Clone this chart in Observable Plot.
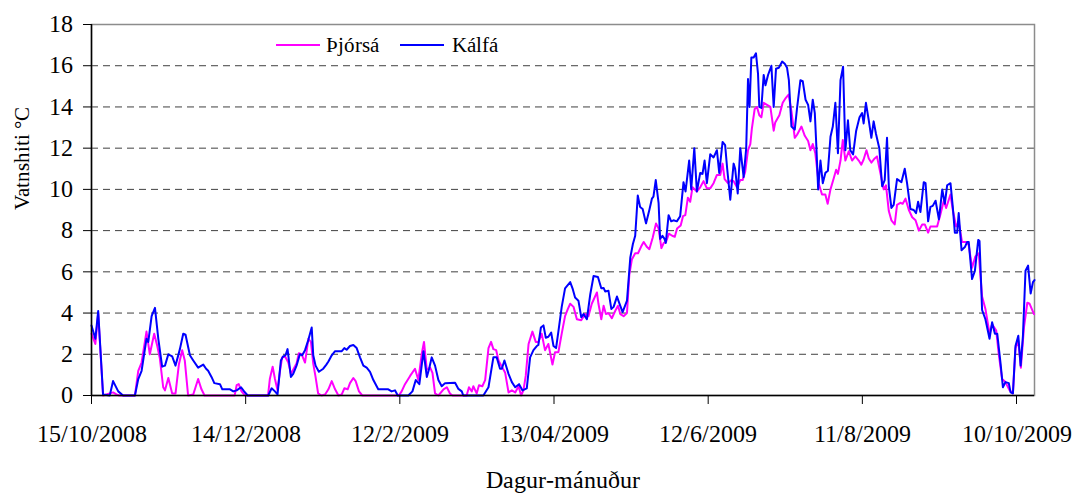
<!DOCTYPE html>
<html><head><meta charset="utf-8">
<script src="https://cdn.jsdelivr.net/npm/d3@7"></script>
<script src="https://cdn.jsdelivr.net/npm/@observablehq/plot@0.6"></script>
<style>
@font-face{font-family:"ChartSerif";src:local("Liberation Serif"),local("LiberationSerif"),local("LiberationSerif-Regular"),local("Liberation Serif Regular"),local("Times New Roman"),local("DejaVu Serif"),local("DejaVuSerif"),local("Noto Serif"),local("NotoSerif-Regular");}
body{margin:0;background:#fff;}
#wrap{position:relative;width:1081px;height:496px;font-family:ChartSerif,"Liberation Serif","Times New Roman",serif;}
#wrap svg, #wrap svg text{font-family:ChartSerif,"Liberation Serif","Times New Roman",serif !important;}
.sw{position:absolute;height:0;border-top:2px solid;width:44px;}
.lt{position:absolute;font-size:21px;line-height:21px;color:#000;white-space:nowrap;}
</style></head><body><div id="wrap"></div>
<script>
// Day offsets from 15/10/2008 and water temperature (°C)
const seriesNames = ["Þjórsá", "Kálfá"];
const seriesColors = ["#ff00ff", "#0000ff"];
const thjorsaReadings = [[0,3],[1.5,2.5],[2.6,4],[4.5,0],[8.4,0.15],[9.7,0.05],[10.8,0],[16.9,0],[18.2,1.2],[19.5,1.6],[21.4,3.1],[22.7,2],[24.4,3],[25.6,2.4],[26.6,1.8],[27.9,0.4],[28.6,0.25],[29.9,0.85],[31.4,0.1],[32.7,0.1],[34,1.5],[35.3,2.2],[36.3,1.7],[37.6,0],[39.6,0.05],[41.5,0.8],[42.8,0.3],[44,0],[55.7,0],[56.5,0.5],[57.3,0.55],[58.4,0.2],[59.8,0],[68.7,0],[69.4,0.8],[70.5,1.4],[71.4,0.8],[72.4,0.25],[73.3,1.15],[74.2,1.85],[75.3,1.9],[76.6,1.6],[77.6,1.05],[79.8,1.55],[80.7,2.05],[81.8,2],[83.1,1.6],[84.4,2.75],[85.4,2.6],[86.3,1.55],[87.2,0.9],[88.2,0.1],[89.5,0],[90.9,0.05],[92.2,0.3],[93.5,0.7],[94.8,0.3],[96.1,0],[97.4,0.05],[98.4,0.35],[99.7,0.3],[100.6,0.6],[101.9,0.85],[102.8,0.7],[104.1,0.2],[105.4,0],[119.6,0],[120.7,0.2],[122,0.55],[124,0.95],[125.9,1.3],[127.2,0.75],[128.5,2],[129.4,2.6],[130.5,1.25],[131.8,1.35],[132.7,1.1],[133.7,0.1],[135,0],[137,0.3],[138.3,0.4],[139.5,0.1],[140.5,0],[146,0],[146.9,0.4],[148,0.2],[148.6,0.45],[149.9,0.1],[150.8,0.5],[152.1,0.45],[153.2,0.75],[154.5,2.3],[155.5,2.6],[156.4,2.25],[157.5,2.2],[158.4,1.7],[159.7,1.4],[161,1.1],[162.3,0.15],[163.6,0.25],[164.9,0.15],[166.2,0.45],[167.2,0],[168.1,0.25],[169,0.95],[170.1,2.5],[171.6,3.1],[172.9,2.6],[173.9,2.6],[175.2,3],[176.5,2.2],[177.8,2.5],[179.4,1.5],[180.4,2.1],[181.7,2.1],[183,3],[184.3,3.85],[185.4,4.2],[186.3,4.45],[187.6,4.3],[188.9,3.7],[190.6,3.65],[192.1,3.95],[193.4,3.85],[194.7,4.45],[196.7,5],[197.3,4.45],[198.4,3.7],[199.3,4.35],[200.2,3.95],[201.2,4],[202.5,3.75],[203.8,4.1],[204.9,4.35],[205.8,3.95],[207.1,3.85],[208.4,4],[209.3,5.85],[210.3,6.6],[211.6,6.9],[212.7,6.9],[214,7.25],[214.9,7.45],[216.2,7.2],[217.1,7.1],[218.4,7.65],[219.7,8.35],[220.7,8.1],[221.8,7.15],[222.7,7.4],[223.6,7.45],[224.7,7.85],[226,7.75],[227,7.7],[227.9,8.1],[229.3,8.25],[230.2,8.7],[231.1,8.75],[232.1,9.6],[233,9.4],[233.9,10.1],[235.6,9.9],[236.9,10.1],[238.2,10.4],[239.5,10.05],[240.8,10.05],[242.1,10.3],[243.4,10.7],[244.7,10.7],[245.6,11.25],[246.4,10.5],[247.7,10.3],[249,10.45],[249.9,10.4],[251.2,10.1],[252.5,10.45],[253.4,10.45],[254.4,10.85],[255.5,11.9],[256.4,12.2],[257,12.95],[258.1,13.9],[259,14],[259.9,13.6],[260.7,13.5],[261.6,14.2],[262.9,14.1],[264.2,14],[265.5,12.85],[266.1,13.25],[267.7,13.6],[269,14.2],[270,14.4],[271.3,14.6],[272.4,13.8],[273.7,12.5],[274.6,12.65],[276.3,13.05],[277.6,12.6],[278.9,12.35],[279.8,11.9],[280.7,12.2],[281.7,11.75],[283,10.3],[284.3,9.75],[285.6,9.75],[286.5,9.3],[287.6,10],[288.9,10.55],[289.8,10.95],[290.5,10.75],[291.5,11.4],[292.4,12.4],[293.4,11.4],[294.7,11.85],[296,11.4],[297.3,11.6],[298.6,11.4],[299.6,11.2],[300.5,11.45],[301.6,11.9],[302.5,11.5],[303.5,11.3],[304.8,11.5],[305.7,11.6],[307,10.8],[308.3,10],[309.2,10.2],[310.3,8.95],[311.3,8.5],[312.6,8.3],[313.5,9.25],[314.8,9.35],[315.7,9.3],[316.8,9.55],[318.1,9],[319.4,8.65],[320.7,8.5],[322,8],[323.3,8.3],[324.3,8.3],[325.6,7.9],[326.5,8.2],[327.8,8.2],[329.1,8.2],[330.4,8.8],[331.7,9.45],[332.6,9.1],[334.3,9.75],[335.2,9],[336.5,8.2],[337.5,8.4],[338.8,7.45],[340.4,7.45],[341.4,7.3],[342.7,6.2],[344,6.75],[345.3,6.9],[346.6,4.8],[347.9,4.2],[349.5,3],[350.5,3.45],[352.1,3.15],[353.1,2],[354.4,0.8],[355.7,0.65],[357.3,0.25],[358.6,0.1],[359.6,2.3],[360.7,2.65],[361.7,1.35],[362.9,3.3],[364.2,4.5],[365.1,4.45],[366.8,3.95]];
const kalfaReadings = [[0,3.4],[1.5,2.75],[2.6,4.1],[4.5,0.05],[7.1,0],[8.4,0.7],[10.4,0.2],[12.3,0],[16.9,0],[18.2,0.8],[19.5,1.2],[21.4,2.75],[22.1,2.6],[23.4,3.85],[24.7,4.25],[26,2.75],[27.5,1.4],[28.6,1.45],[29.9,2],[31.4,1.9],[32.7,1.45],[34.4,2.25],[35.7,3],[36.6,2.95],[38.3,1.95],[39.6,1.7],[41.5,1.35],[43.5,1.5],[44.6,1.3],[45.4,1.2],[46.7,0.9],[47.8,0.6],[50,0.55],[50.9,0.3],[53.9,0.3],[55.2,0.2],[56.5,0.25],[58.2,0.4],[59.4,0.2],[60.8,0],[68.8,0],[70.1,0.35],[71.4,0.2],[72.4,0.05],[73.7,1.7],[74.6,1.9],[75.5,1.95],[76.3,2.25],[77.6,0.9],[78.5,1.05],[79.8,1.45],[81.1,2],[82,1.95],[83.1,2.2],[84.4,2.7],[85.7,3.3],[86.3,1.95],[87.2,1.45],[88.5,1.15],[90.2,1.3],[91.4,1.5],[92.2,1.65],[93.5,1.95],[94.8,2.15],[97.4,2.15],[98.4,2.3],[99.3,2.22],[100.6,2.4],[101.9,2.45],[103.2,2.3],[104.5,1.85],[105.8,1.45],[107.1,1.35],[108.4,1.15],[109.7,0.75],[111.6,0.3],[115.5,0.3],[116.8,0.2],[118.1,0.25],[119.2,0],[123.3,0],[124.9,0.2],[126.2,0.75],[127.6,0.55],[129.2,2.15],[130.5,0.9],[131.4,1.3],[132.4,1.85],[133.7,1.45],[135,0.75],[136.3,0.45],[137.6,0.6],[141.5,0.62],[142.8,0.32],[144.1,0.2],[144.7,0],[152.5,0],[154.5,0.4],[156.4,1.85],[157.7,1.85],[159,1.3],[159.7,1.3],[160.7,1.7],[162.3,1.05],[163.6,0.65],[164.9,0.4],[166.4,0.55],[167.7,0.25],[169.4,0.35],[170.7,1.85],[172,2.2],[173.3,2.4],[173.9,2.45],[174.9,3.3],[175.9,3.4],[176.8,2.8],[177.8,2.85],[178.9,3.05],[179.8,2.4],[180.8,2.3],[181.7,3.1],[183,4.3],[184.3,5.2],[186.3,5.5],[187.2,5.2],[188.2,4.75],[189.5,4.6],[190.6,3.8],[191.5,3.95],[192.8,3.7],[194.1,4.9],[195.4,5.8],[197.1,5.75],[198.4,5.2],[199.3,5.22],[199.9,5.05],[201.2,5.08],[202.3,4.2],[203.2,4.3],[204.5,4.8],[205.8,4.35],[206.7,4.05],[208.4,4.6],[209.7,6.7],[210.7,7.35],[211.6,7.75],[212.6,9.7],[213.5,9.15],[214.5,9.05],[215.8,8.35],[217.1,9],[218.1,9.55],[218.7,9.65],[219.6,10.45],[220.7,9.35],[221.3,7.6],[222.2,7.75],[223,7.6],[223.5,7.4],[224.6,8.75],[225.6,8.45],[226.5,8.5],[227.8,8.45],[229.1,8.7],[230.4,10.35],[231.2,9.9],[232.6,11.4],[233.4,10],[234.6,12],[235.6,9.9],[236.9,10.8],[237.8,10.75],[238.6,11.4],[239.5,10.3],[240.8,11.7],[242.1,11.55],[243.4,11.9],[244.3,10.8],[245.6,12.3],[246.6,12.15],[247.4,11],[248.6,9.5],[249.9,11.25],[250.5,11],[251.5,9.8],[252.5,12],[253.8,10.6],[254.8,12],[255.5,15.35],[256.1,14],[256.8,16.4],[257.7,16.4],[258.6,16.6],[259.4,15.6],[259.9,14],[260.7,13.95],[261.6,15.55],[262.3,15.05],[263.3,15.55],[264.6,16],[265.5,14],[266.4,15.85],[267.5,15.9],[268.8,16.2],[269.8,16.1],[270.7,15.9],[271.4,15.3],[272.4,13.05],[273.7,12.9],[274.6,13.95],[275.9,15.3],[276.8,15.25],[277.9,14.35],[278.9,14.1],[279.8,13.3],[280.7,14.35],[281.5,13.7],[282.1,12.1],[282.8,10],[283.7,11.4],[284.6,10.3],[285.6,10.8],[286.6,10.9],[287.6,12.55],[288.5,13.05],[289.5,14.2],[290.5,11.75],[291.5,15.3],[292.5,15.95],[293.4,11.9],[294.4,13.35],[295.3,11.9],[296.4,11.7],[297.6,12.85],[298.9,13.5],[299.9,13.7],[300.5,13.2],[301.4,14.2],[302.5,13.35],[303.5,12.5],[304.4,13.3],[305.3,12.7],[306.6,12],[307.7,10.15],[308.7,10.45],[309.6,12.5],[310.3,10.15],[311.3,9.1],[312.2,9.25],[313.5,10.5],[315.2,10.35],[316.5,11],[317.4,10.3],[318.7,9.05],[320,9],[320.9,8.85],[321.7,9.4],[322.6,8.9],[323.9,10.35],[324.6,10.3],[325.6,8.45],[326.5,9.15],[327.4,9.2],[328.5,9.45],[329.8,8.55],[331.1,10],[332.1,9.3],[333,10.2],[334.3,10.3],[335.2,9.15],[336,7.9],[336.9,7.9],[337.5,8.85],[338.6,7.05],[339.9,7.2],[340.8,7.45],[341.4,7.45],[342.7,5.65],[343.8,6.05],[345.1,7.55],[345.6,7.5],[346.6,4.15],[347.9,3.7],[349.5,2.75],[350.5,3.55],[351.6,3],[352.5,3],[353.8,1.55],[354.7,0.4],[355.7,0.65],[357,0.6],[357.7,0.15],[358.6,0.1],[359.6,2.4],[360.7,2.9],[361.6,1.45],[362.5,2.9],[363.5,6.05],[364.5,6.3],[365.5,4.95],[366.4,5.5],[367,5.6]];
const tickDays = [0, 60, 120, 180, 240, 300, 360];
const tickLabels = ["15/10/2008", "14/12/2008", "12/2/2009", "13/04/2009", "12/6/2009", "11/8/2009", "10/10/2009"];
const yTicks = [0, 2, 4, 6, 8, 10, 12, 14, 16, 18];
const gridValues = [2, 4, 6, 8, 10, 12, 14, 16];
const xTitle = "Dagur-mánuður";
const yTitle = "Vatnshiti °C";
const domainDays = [0, 367];

const DAY = 864e5;
const start = Date.UTC(2008, 9, 15);
const toDate = d => new Date(start + d * DAY);
const rows = (name, readings) => readings.map(([d, t]) => ({series: name, date: toDate(d), temp: t}));
const data = [...rows(seriesNames[0], thjorsaReadings), ...rows(seriesNames[1], kalfaReadings)];
const tickDates = tickDays.map(toDate);
const labelByTime = new Map(tickDates.map((d, i) => [+d, tickLabels[i]]));
const font = "ChartSerif, Liberation Serif, Times New Roman, serif";

const chart = Plot.plot({
  width: 1081, height: 496,
  marginTop: 24, marginRight: 47, marginBottom: 101, marginLeft: 91,
  style: {fontFamily: font, fontSize: "24px", color: "#000", background: "#fff", overflow: "visible"},
  x: {type: "utc", domain: domainDays.map(toDate)},
  y: {domain: [0, 18]},
  color: {domain: seriesNames, range: seriesColors},
  marks: [
    Plot.gridY(gridValues, {stroke: "#404040", strokeOpacity: 1, strokeDasharray: "7,5"}),
    Plot.frame({stroke: "#8c8c8c", strokeWidth: 1.5}),
    Plot.line(data, {x: "date", y: "temp", z: "series", stroke: "series", strokeWidth: 2}),
    Plot.ruleX([toDate(0)], {stroke: "#000", strokeWidth: 1.5}),
    Plot.ruleY([0], {stroke: "#000", strokeWidth: 1.5}),
    Plot.axisY(yTicks, {tickSize: 8, tickPadding: 11, fontSize: 24, label: null}),
    Plot.axisX(tickDates, {tickSize: 9, tickPadding: 20, fontSize: 24, label: null, tickFormat: d => labelByTime.get(+d)}),
    Plot.text([xTitle], {frameAnchor: "bottom", dy: 92, fontSize: 24}),
    Plot.text([yTitle], {frameAnchor: "left", dx: -69, rotate: -90, fontSize: 21})
  ]
});

const wrap = document.getElementById("wrap");
wrap.appendChild(chart);

// legend inside plot area
const legendPos = [{sw: 276, tx: 326}, {sw: 400, tx: 452}];
seriesNames.forEach((name, i) => {
  const sw = document.createElement("div");
  sw.className = "sw";
  sw.style.left = legendPos[i].sw + "px";
  sw.style.top = "44px";
  sw.style.borderColor = seriesColors[i];
  wrap.appendChild(sw);
  const t = document.createElement("div");
  t.className = "lt";
  t.style.left = legendPos[i].tx + "px";
  t.style.top = "35px";
  t.textContent = name;
  wrap.appendChild(t);
});
</script></body></html>
